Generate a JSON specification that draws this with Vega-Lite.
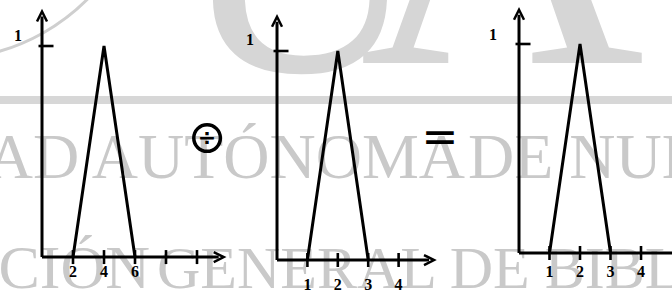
{
  "$schema": "https://vega.github.io/schema/vega-lite/v6.json",
  "width": 672,
  "height": 290,
  "padding": 0,
  "autosize": {"type": "none"},
  "background": "white",
  "config": {"view": {"stroke": null}},
  "datasets": {
    "wmU": [{"u": 0.4464, "v": 0.2448, "t": "U"}],
    "wmA": [{"u": 0.7470, "v": 0.2172, "t": "A"}],
    "wmR2": [{"u": 0.692, "v": 0.6138, "t": "UNIVERSIDAD AUTÓNOMA"}],
    "wmL2": [{"u": 0.6964, "v": 0.6138, "t": "DE NUEVO LEÓN"}],
    "wmR3": [{"u": 0.2232, "v": 0.9931, "t": "DIRECCIÓN"}],
    "wmL3": [{"u": 0.2336, "v": 0.9931, "t": "GENERAL DE BIBLIOTECAS"}],
    "wmBand": [{"u": 0, "u2": 1, "v": 0.3448}],
    "wmArc": [{"u": -0.0863, "v": -0.5034}],
    "tri1": [{"x": 2, "y": 0}, {"x": 4, "y": 1}, {"x": 6, "y": 0}],
    "ax1": [{"x": 0, "y": 0, "x2": 11.4, "y2": 0}, {"x": 0, "y": 0, "x2": 0, "y2": 1.14}],
    "ar1": [{"x": 11.4, "y": 0, "dir": "right"}, {"x": 0, "y": 1.14, "dir": "up"}],
    "tk1": [{"x": 2, "y": 0, "label": "2"}, {"x": 4, "y": 0, "label": "4"}, {"x": 6, "y": 0, "label": "6"}, {"x": 8, "y": 0, "label": ""}, {"x": 10, "y": 0, "label": ""}],
    "yt1": [{"x": 0, "y": 1, "label": "1"}],
    "op1": [{"x": 10.65, "y": 0.564, "label": "÷"}],
    "tri2": [{"x": 1, "y": 0}, {"x": 2, "y": 1}, {"x": 3, "y": 0}],
    "ax2": [{"x": 0, "y": 0, "x2": 5.0, "y2": 0}, {"x": 0, "y": 0, "x2": 0, "y2": 1.14}],
    "ar2": [{"x": 5.0, "y": 0, "dir": "right"}, {"x": 0, "y": 1.14, "dir": "up"}],
    "tk2": [{"x": 1, "y": 0, "label": "1"}, {"x": 2, "y": 0, "label": "2"}, {"x": 3, "y": 0, "label": "3"}, {"x": 4, "y": 0, "label": "4"}],
    "yt2": [{"x": 0, "y": 1, "label": "1"}],
    "op2": [{"x": 5.36, "y": 0.579, "label": "="}],
    "tri3": [{"x": 1, "y": 0}, {"x": 2, "y": 1}, {"x": 3, "y": 0}],
    "ax3": [{"x": 0, "y": 0, "x2": 5.2, "y2": 0}, {"x": 0, "y": 0, "x2": 0, "y2": 1.14}],
    "ar3": [{"x": 5.2, "y": 0, "dir": "right"}, {"x": 0, "y": 1.14, "dir": "up"}],
    "tk3": [{"x": 1, "y": 0, "label": "1"}, {"x": 2, "y": 0, "label": "2"}, {"x": 3, "y": 0, "label": "3"}, {"x": 4, "y": 0, "label": "4"}],
    "yt3": [{"x": 0, "y": 1, "label": "1"}]
  },
  "resolve": {"scale": {"x": "independent", "y": "independent", "shape": "independent"}},
  "layer": [
    {
      "encoding": {
        "x": {"field": "u", "type": "quantitative", "scale": {"domain": [0, 1], "nice": false, "zero": false}, "axis": null},
        "y": {"field": "v", "type": "quantitative", "scale": {"domain": [0, 1], "nice": false, "zero": false, "reverse": true}, "axis": null}
      },
      "layer": [
        {"data": {"name": "wmBand"}, "mark": {"type": "rule", "strokeWidth": 8, "color": "#d7d7d7"}, "encoding": {"x2": {"field": "u2"}}},
        {"data": {"name": "wmArc"}, "mark": {"type": "arc", "radius": 207, "radius2": 204, "theta": 2.3, "theta2": 2.95, "color": "#cfcfcf"}},
        {"data": {"name": "wmU"}, "mark": {"type": "text", "font": "Liberation Serif", "fontSize": 340, "align": "center", "baseline": "alphabetic", "color": "#d6d6d6"}, "encoding": {"text": {"field": "t"}}},
        {"data": {"name": "wmA"}, "mark": {"type": "text", "font": "Liberation Serif", "fontSize": 395, "align": "center", "baseline": "alphabetic", "color": "#d6d6d6"}, "encoding": {"text": {"field": "t"}}},
        {"data": {"name": "wmR2"}, "mark": {"type": "text", "font": "Liberation Serif", "fontSize": 64, "align": "right", "baseline": "alphabetic", "color": "#c9c9c9"}, "encoding": {"text": {"field": "t"}}},
        {"data": {"name": "wmL2"}, "mark": {"type": "text", "font": "Liberation Serif", "fontSize": 64, "align": "left", "baseline": "alphabetic", "color": "#c9c9c9"}, "encoding": {"text": {"field": "t"}}},
        {"data": {"name": "wmR3"}, "mark": {"type": "text", "font": "Liberation Serif", "fontSize": 62, "align": "right", "baseline": "alphabetic", "color": "#c9c9c9"}, "encoding": {"text": {"field": "t"}}},
        {"data": {"name": "wmL3"}, "mark": {"type": "text", "font": "Liberation Serif", "fontSize": 60, "align": "left", "baseline": "alphabetic", "color": "#c9c9c9"}, "encoding": {"text": {"field": "t"}}}
      ]
    },
    {
      "encoding": {
        "x": {"field": "x", "type": "quantitative", "scale": {"domain": [-2.71, 40.645], "nice": false, "zero": false}, "axis": null},
        "y": {"field": "y", "type": "quantitative", "scale": {"domain": [-0.156, 1.218], "nice": false, "zero": false}, "axis": null}
      },
      "layer": [
        {"data": {"name": "ax1"}, "mark": {"type": "rule", "strokeWidth": 3, "color": "black"}, "encoding": {"x2": {"field": "x2"}, "y2": {"field": "y2"}}},
        {"data": {"name": "ar1"}, "mark": {"type": "point", "filled": false, "stroke": "black", "strokeWidth": 2.5, "size": 100, "opacity": 1}, "encoding": {"shape": {"field": "dir", "type": "nominal", "scale": {"domain": ["right", "up"], "range": ["M-1,-1L1,0L-1,1", "M-1,1L0,-1L1,1"]}, "legend": null}}},
        {"data": {"name": "tk1"}, "mark": {"type": "point", "shape": "M0,-1L0,1", "size": 196, "filled": false, "stroke": "black", "strokeWidth": 2.6, "opacity": 1}},
        {"data": {"name": "tk1"}, "mark": {"type": "text", "dy": 15, "font": "Liberation Serif", "fontWeight": "bold", "fontSize": 16, "baseline": "middle", "color": "black"}, "encoding": {"text": {"field": "label"}}},
        {"data": {"name": "yt1"}, "mark": {"type": "point", "shape": "M-1,0L1,0", "size": 225, "filled": false, "stroke": "black", "strokeWidth": 2.6, "opacity": 1, "xOffset": 4}},
        {"data": {"name": "yt1"}, "mark": {"type": "text", "dx": -24, "dy": -10, "font": "Liberation Serif", "fontWeight": "bold", "fontSize": 16, "baseline": "middle", "color": "black"}, "encoding": {"text": {"field": "label"}}},
        {"data": {"name": "tri1"}, "mark": {"type": "line", "strokeWidth": 3, "color": "black", "strokeJoin": "miter"}},
        {"data": {"name": "op1"}, "mark": {"type": "point", "shape": "circle", "size": 707, "filled": false, "stroke": "black", "strokeWidth": 3.5, "opacity": 1}},
        {"data": {"name": "op1"}, "mark": {"type": "text", "font": "DejaVu Sans", "fontWeight": "bold", "fontSize": 22, "baseline": "middle", "color": "black"}, "encoding": {"text": {"field": "label"}}}
      ]
    },
    {
      "encoding": {
        "x": {"field": "x", "type": "quantitative", "scale": {"domain": [-9.112, 12.993], "nice": false, "zero": false}, "axis": null},
        "y": {"field": "y", "type": "quantitative", "scale": {"domain": [-0.1435, 1.244], "nice": false, "zero": false}, "axis": null}
      },
      "layer": [
        {"data": {"name": "ax2"}, "mark": {"type": "rule", "strokeWidth": 3, "color": "black"}, "encoding": {"x2": {"field": "x2"}, "y2": {"field": "y2"}}},
        {"data": {"name": "ar2"}, "mark": {"type": "point", "filled": false, "stroke": "black", "strokeWidth": 2.5, "size": 100, "opacity": 1}, "encoding": {"shape": {"field": "dir", "type": "nominal", "scale": {"domain": ["right", "up"], "range": ["M-1,-1L1,0L-1,1", "M-1,1L0,-1L1,1"]}, "legend": null}}},
        {"data": {"name": "tk2"}, "mark": {"type": "point", "shape": "M0,-1L0,1", "size": 196, "filled": false, "stroke": "black", "strokeWidth": 2.6, "opacity": 1}},
        {"data": {"name": "tk2"}, "mark": {"type": "text", "dy": 25, "font": "Liberation Serif", "fontWeight": "bold", "fontSize": 16, "baseline": "middle", "color": "black"}, "encoding": {"text": {"field": "label"}}},
        {"data": {"name": "yt2"}, "mark": {"type": "point", "shape": "M-1,0L1,0", "size": 225, "filled": false, "stroke": "black", "strokeWidth": 2.6, "opacity": 1, "xOffset": 4}},
        {"data": {"name": "yt2"}, "mark": {"type": "text", "dx": -27, "dy": -11, "font": "Liberation Serif", "fontWeight": "bold", "fontSize": 16, "baseline": "middle", "color": "black"}, "encoding": {"text": {"field": "label"}}},
        {"data": {"name": "tri2"}, "mark": {"type": "line", "strokeWidth": 3, "color": "black", "strokeJoin": "miter"}},
        {"data": {"name": "op2"}, "mark": {"type": "text", "font": "DejaVu Sans", "fontWeight": "normal", "fontSize": 44, "baseline": "middle", "color": "black"}, "encoding": {"text": {"field": "label"}}}
      ]
    },
    {
      "encoding": {
        "x": {"field": "x", "type": "quantitative", "scale": {"domain": [-17.016, 5.016], "nice": false, "zero": false}, "axis": null},
        "y": {"field": "y", "type": "quantitative", "scale": {"domain": [-0.177, 1.2105], "nice": false, "zero": false}, "axis": null}
      },
      "layer": [
        {"data": {"name": "ax3"}, "mark": {"type": "rule", "strokeWidth": 3, "color": "black"}, "encoding": {"x2": {"field": "x2"}, "y2": {"field": "y2"}}},
        {"data": {"name": "ar3"}, "mark": {"type": "point", "filled": false, "stroke": "black", "strokeWidth": 2.5, "size": 100, "opacity": 1}, "encoding": {"shape": {"field": "dir", "type": "nominal", "scale": {"domain": ["right", "up"], "range": ["M-1,-1L1,0L-1,1", "M-1,1L0,-1L1,1"]}, "legend": null}}},
        {"data": {"name": "tk3"}, "mark": {"type": "point", "shape": "M0,-1L0,1", "size": 196, "filled": false, "stroke": "black", "strokeWidth": 2.6, "opacity": 1}},
        {"data": {"name": "tk3"}, "mark": {"type": "text", "dy": 19, "font": "Liberation Serif", "fontWeight": "bold", "fontSize": 16, "baseline": "middle", "color": "black"}, "encoding": {"text": {"field": "label"}}},
        {"data": {"name": "yt3"}, "mark": {"type": "point", "shape": "M-1,0L1,0", "size": 225, "filled": false, "stroke": "black", "strokeWidth": 2.6, "opacity": 1, "xOffset": 4}},
        {"data": {"name": "yt3"}, "mark": {"type": "text", "dx": -26, "dy": -9, "font": "Liberation Serif", "fontWeight": "bold", "fontSize": 16, "baseline": "middle", "color": "black"}, "encoding": {"text": {"field": "label"}}},
        {"data": {"name": "tri3"}, "mark": {"type": "line", "strokeWidth": 3, "color": "black", "strokeJoin": "miter"}}
      ]
    }
  ]
}
